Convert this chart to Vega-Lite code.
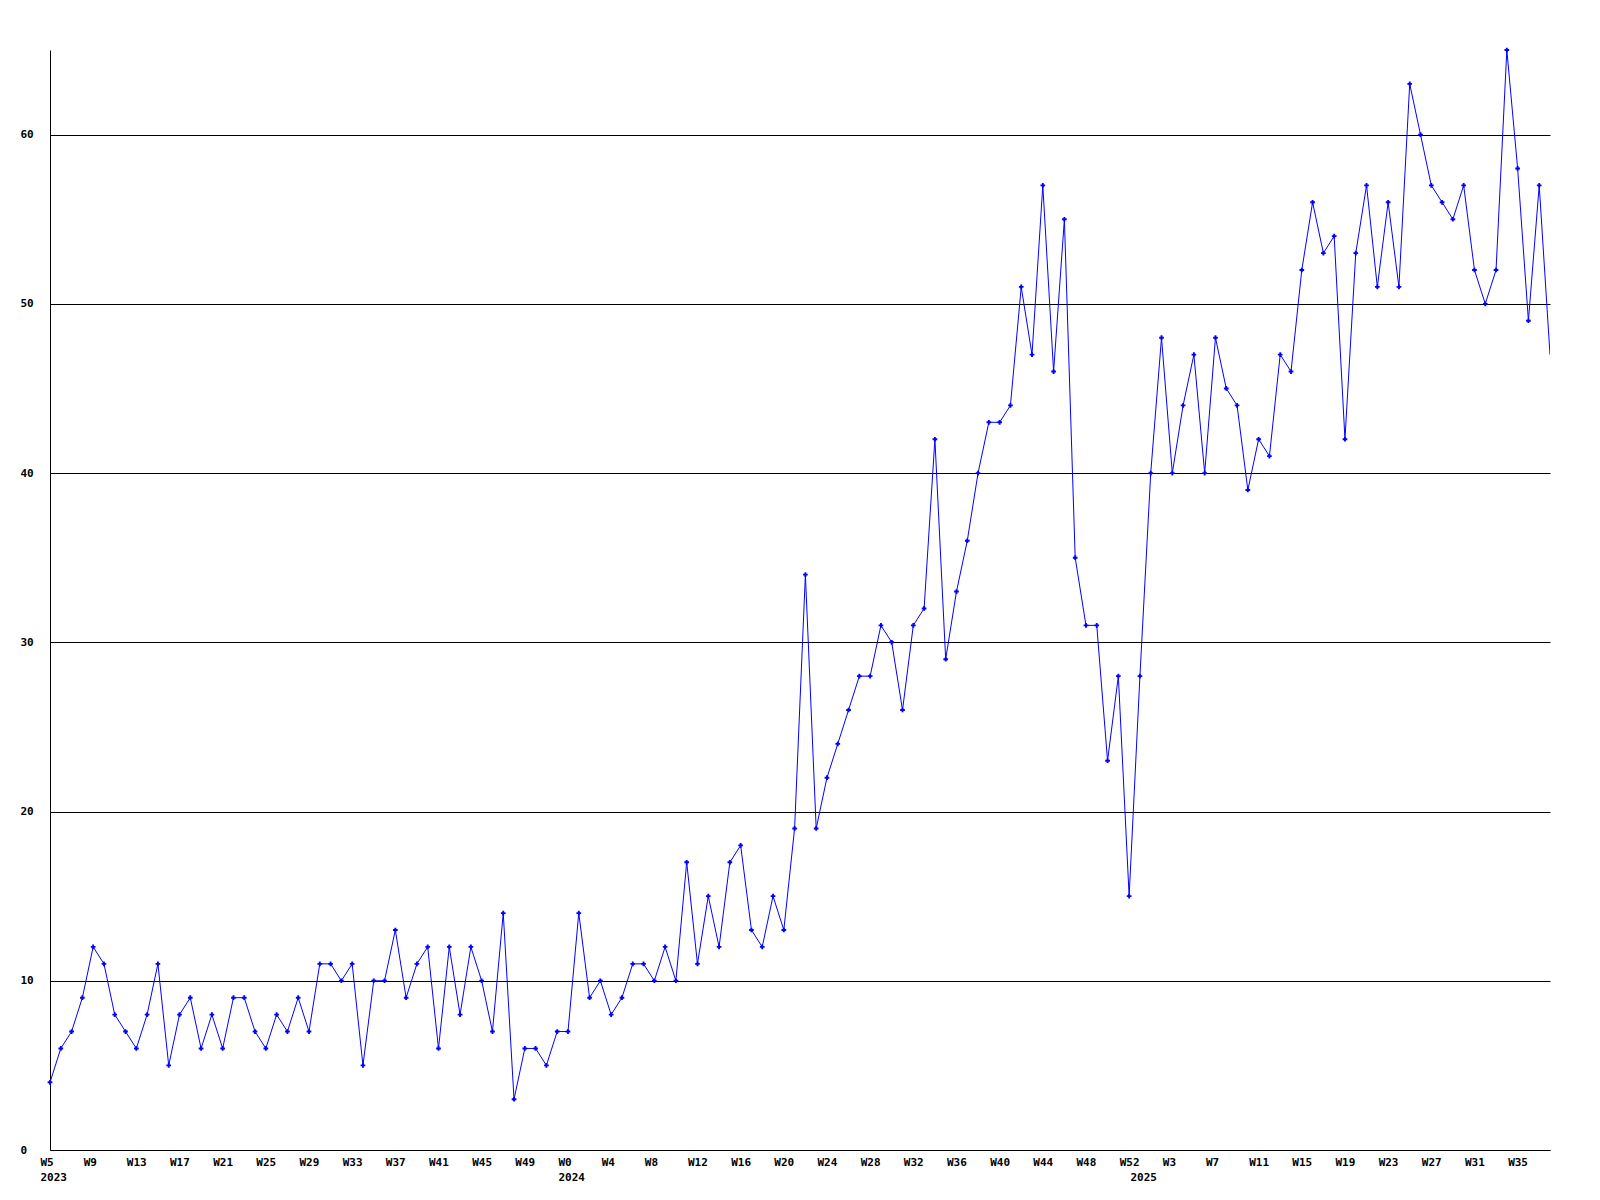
{
  "$schema": "https://vega.github.io/schema/vega-lite/v6.json",
  "autosize": "none",
  "width": 1500,
  "height": 1100,
  "padding": {"left": 50, "top": 50, "right": 50, "bottom": 50},
  "background": "white",
  "config": {
    "view": {"stroke": null},
    "axis": {
      "labelFont": "DejaVu Sans Mono",
      "labelFontWeight": "bold",
      "labelFontSize": 11,
      "labelColor": "black",
      "domainColor": "black",
      "domainWidth": 1,
      "ticks": false,
      "gridColor": "black",
      "gridOpacity": 1,
      "gridWidth": 1,
      "title": null
    }
  },
  "data": {
    "values": [
      {"wk": "2023-W5", "v": 4}, {"wk": "2023-W6", "v": 6}, {"wk": "2023-W7", "v": 7}, {"wk": "2023-W8", "v": 9},
      {"wk": "2023-W9", "v": 12}, {"wk": "2023-W10", "v": 11}, {"wk": "2023-W11", "v": 8}, {"wk": "2023-W12", "v": 7},
      {"wk": "2023-W13", "v": 6}, {"wk": "2023-W14", "v": 8}, {"wk": "2023-W15", "v": 11}, {"wk": "2023-W16", "v": 5},
      {"wk": "2023-W17", "v": 8}, {"wk": "2023-W18", "v": 9}, {"wk": "2023-W19", "v": 6}, {"wk": "2023-W20", "v": 8},
      {"wk": "2023-W21", "v": 6}, {"wk": "2023-W22", "v": 9}, {"wk": "2023-W23", "v": 9}, {"wk": "2023-W24", "v": 7},
      {"wk": "2023-W25", "v": 6}, {"wk": "2023-W26", "v": 8}, {"wk": "2023-W27", "v": 7}, {"wk": "2023-W28", "v": 9},
      {"wk": "2023-W29", "v": 7}, {"wk": "2023-W30", "v": 11}, {"wk": "2023-W31", "v": 11}, {"wk": "2023-W32", "v": 10},
      {"wk": "2023-W33", "v": 11}, {"wk": "2023-W34", "v": 5}, {"wk": "2023-W35", "v": 10}, {"wk": "2023-W36", "v": 10},
      {"wk": "2023-W37", "v": 13}, {"wk": "2023-W38", "v": 9}, {"wk": "2023-W39", "v": 11}, {"wk": "2023-W40", "v": 12},
      {"wk": "2023-W41", "v": 6}, {"wk": "2023-W42", "v": 12}, {"wk": "2023-W43", "v": 8}, {"wk": "2023-W44", "v": 12},
      {"wk": "2023-W45", "v": 10}, {"wk": "2023-W46", "v": 7}, {"wk": "2023-W47", "v": 14}, {"wk": "2023-W48", "v": 3},
      {"wk": "2023-W49", "v": 6}, {"wk": "2023-W50", "v": 6}, {"wk": "2023-W51", "v": 5}, {"wk": "2023-W52", "v": 7},
      {"wk": "2024-W0", "v": 7}, {"wk": "2024-W1", "v": 14}, {"wk": "2024-W2", "v": 9}, {"wk": "2024-W3", "v": 10},
      {"wk": "2024-W4", "v": 8}, {"wk": "2024-W5", "v": 9}, {"wk": "2024-W6", "v": 11}, {"wk": "2024-W7", "v": 11},
      {"wk": "2024-W8", "v": 10}, {"wk": "2024-W9", "v": 12}, {"wk": "2024-W10", "v": 10}, {"wk": "2024-W11", "v": 17},
      {"wk": "2024-W12", "v": 11}, {"wk": "2024-W13", "v": 15}, {"wk": "2024-W14", "v": 12}, {"wk": "2024-W15", "v": 17},
      {"wk": "2024-W16", "v": 18}, {"wk": "2024-W17", "v": 13}, {"wk": "2024-W18", "v": 12}, {"wk": "2024-W19", "v": 15},
      {"wk": "2024-W20", "v": 13}, {"wk": "2024-W21", "v": 19}, {"wk": "2024-W22", "v": 34}, {"wk": "2024-W23", "v": 19},
      {"wk": "2024-W24", "v": 22}, {"wk": "2024-W25", "v": 24}, {"wk": "2024-W26", "v": 26}, {"wk": "2024-W27", "v": 28},
      {"wk": "2024-W28", "v": 28}, {"wk": "2024-W29", "v": 31}, {"wk": "2024-W30", "v": 30}, {"wk": "2024-W31", "v": 26},
      {"wk": "2024-W32", "v": 31}, {"wk": "2024-W33", "v": 32}, {"wk": "2024-W34", "v": 42}, {"wk": "2024-W35", "v": 29},
      {"wk": "2024-W36", "v": 33}, {"wk": "2024-W37", "v": 36}, {"wk": "2024-W38", "v": 40}, {"wk": "2024-W39", "v": 43},
      {"wk": "2024-W40", "v": 43}, {"wk": "2024-W41", "v": 44}, {"wk": "2024-W42", "v": 51}, {"wk": "2024-W43", "v": 47},
      {"wk": "2024-W44", "v": 57}, {"wk": "2024-W45", "v": 46}, {"wk": "2024-W46", "v": 55}, {"wk": "2024-W47", "v": 35},
      {"wk": "2024-W48", "v": 31}, {"wk": "2024-W49", "v": 31}, {"wk": "2024-W50", "v": 23}, {"wk": "2024-W51", "v": 28},
      {"wk": "2024-W52", "v": 15},
      {"wk": "2025-W0", "v": 28}, {"wk": "2025-W1", "v": 40}, {"wk": "2025-W2", "v": 48}, {"wk": "2025-W3", "v": 40},
      {"wk": "2025-W4", "v": 44}, {"wk": "2025-W5", "v": 47}, {"wk": "2025-W6", "v": 40}, {"wk": "2025-W7", "v": 48},
      {"wk": "2025-W8", "v": 45}, {"wk": "2025-W9", "v": 44}, {"wk": "2025-W10", "v": 39}, {"wk": "2025-W11", "v": 42},
      {"wk": "2025-W12", "v": 41}, {"wk": "2025-W13", "v": 47}, {"wk": "2025-W14", "v": 46}, {"wk": "2025-W15", "v": 52},
      {"wk": "2025-W16", "v": 56}, {"wk": "2025-W17", "v": 53}, {"wk": "2025-W18", "v": 54}, {"wk": "2025-W19", "v": 42},
      {"wk": "2025-W20", "v": 53}, {"wk": "2025-W21", "v": 57}, {"wk": "2025-W22", "v": 51}, {"wk": "2025-W23", "v": 56},
      {"wk": "2025-W24", "v": 51}, {"wk": "2025-W25", "v": 63}, {"wk": "2025-W26", "v": 60}, {"wk": "2025-W27", "v": 57},
      {"wk": "2025-W28", "v": 56}, {"wk": "2025-W29", "v": 55}, {"wk": "2025-W30", "v": 57}, {"wk": "2025-W31", "v": 52},
      {"wk": "2025-W32", "v": 50}, {"wk": "2025-W33", "v": 52}, {"wk": "2025-W34", "v": 65}, {"wk": "2025-W35", "v": 58},
      {"wk": "2025-W36", "v": 49}, {"wk": "2025-W37", "v": 57}, {"wk": "2025-W38", "v": 47}
    ]
  },
  "encoding": {
    "x": {
      "field": "wk",
      "type": "ordinal",
      "sort": null,
      "scale": {"type": "point", "padding": 0},
      "axis": {
        "values": ["2023-W5","2023-W9","2023-W13","2023-W17","2023-W21","2023-W25","2023-W29","2023-W33","2023-W37","2023-W41","2023-W45","2023-W49",
                   "2024-W0","2024-W4","2024-W8","2024-W12","2024-W16","2024-W20","2024-W24","2024-W28","2024-W32","2024-W36","2024-W40","2024-W44","2024-W48","2024-W52",
                   "2025-W0","2025-W3","2025-W7","2025-W11","2025-W15","2025-W19","2025-W23","2025-W27","2025-W31","2025-W35"],
        "labelExpr": "datum.value == '2025-W0' ? ['', '2025'] : (indexof(['2023-W5', '2024-W0'], datum.value) >= 0 ? [split(datum.value, '-')[1], split(datum.value, '-')[0]] : split(datum.value, '-')[1])",
        "labelAngle": 0,
        "labelAlign": "left",
        "labelBaseline": "top",
        "labelOffset": -10,
        "labelPadding": 6,
        "labelLineHeight": 15,
        "labelOverlap": false,
        "labelBound": false,
        "labelFlush": false,
        "grid": false
      }
    },
    "y": {
      "field": "v",
      "type": "quantitative",
      "scale": {"domain": [0, 65], "nice": false, "zero": true},
      "axis": {
        "values": [0, 10, 20, 30, 40, 50, 60],
        "grid": true,
        "labelAlign": "left",
        "labelBaseline": "middle",
        "labelPadding": 30,
        "labelFlush": false,
        "labelBound": false
      }
    }
  },
  "layer": [
    {
      "mark": {"type": "line", "color": "#0000ff", "strokeWidth": 1, "clip": true}
    },
    {
      "transform": [{"filter": "datum.wk != '2025-W38'"}],
      "mark": {"type": "point", "shape": "cross", "filled": true, "size": 22, "color": "#0000ff", "opacity": 1}
    }
  ]
}
